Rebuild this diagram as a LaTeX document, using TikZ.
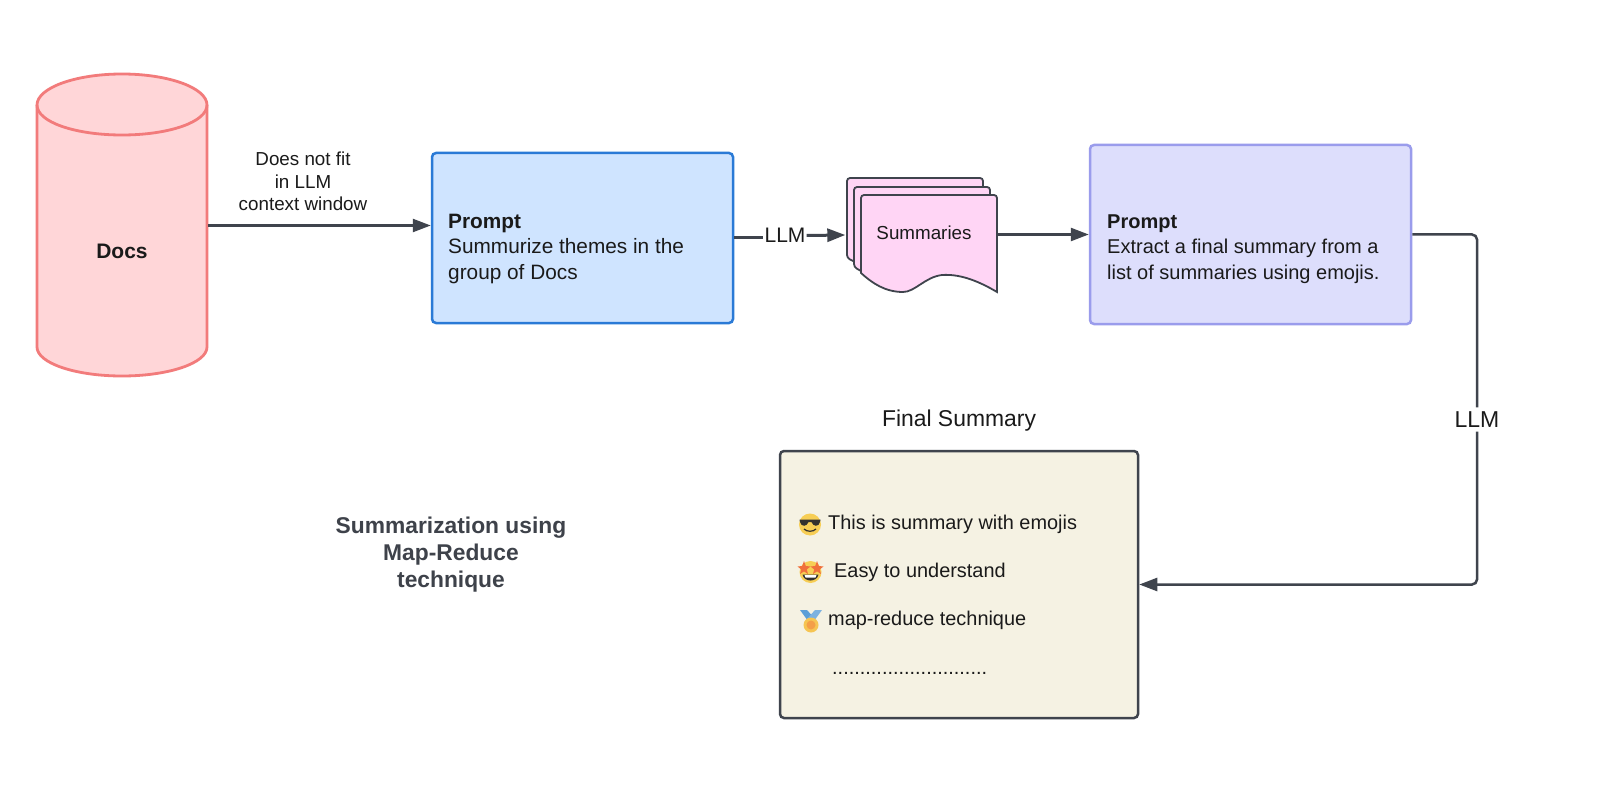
\documentclass[tikz,border=0pt]{standalone}
\usepackage{fontspec}
\setmainfont{Liberation Sans}
\usetikzlibrary{arrows.meta,calc}
\definecolor{ink}{HTML}{3F444D}
\definecolor{txt}{HTML}{1A1A1A}
\definecolor{redl}{HTML}{F27B7B}
\definecolor{redf}{HTML}{FFD6D8}
\definecolor{bluel}{HTML}{2A7AD6}
\definecolor{bluef}{HTML}{CFE4FF}
\definecolor{purl}{HTML}{9A9CEC}
\definecolor{purf}{HTML}{DDDEFC}
\definecolor{pinkf}{HTML}{FFD5F5}
\definecolor{creamf}{HTML}{F5F2E3}
\definecolor{emy}{HTML}{F7CE55}
\definecolor{emo}{HTML}{F0703C}
\definecolor{emb}{HTML}{5C9FD8}
\definecolor{emd}{HTML}{33312E}
\tikzset{
  flow/.style={draw=ink,line width=2.5pt,-{Triangle[length=18pt,width=13pt]}},
  plainflow/.style={draw=ink,line width=2.5pt},
  cardbox/.style={rounded corners=4pt,line width=2.5pt},
  lab/.style={text=txt,font=\fontsize{21}{26}\selectfont,inner sep=1pt},
  smalllab/.style={text=txt,font=\fontsize{18.8}{22.5}\selectfont,inner sep=1pt,align=center},
  bodytext/.style={text=txt,align=left,anchor=west,inner sep=0pt},
  item/.style={text=txt,font=\fontsize{19.9}{24}\selectfont,anchor=base west,inner sep=0pt},
  sheet/.style={draw=ink,fill=pinkf,line width=1.8pt,rounded corners=3pt},
}
\begin{document}
\begin{tikzpicture}[x=1pt,y=-1pt]
\useasboundingbox (0,0) rectangle (1600,794);
\fill[white] (0,0) rectangle (1600,794);

% Cylinder
\path[fill=redf,draw=redl,line width=2.8pt]
  (37,105) -- (37,347) .. controls (37,363) and (75,376) .. (122,376)
  .. controls (169,376) and (207,363) .. (207,347) -- (207,105)
  .. controls (207,88) and (169,74) .. (122,74)
  .. controls (75,74) and (37,88) .. (37,105) -- cycle;
\draw[redl,line width=2.8pt] (37,105) .. controls (37,122) and (75,135) .. (122,135)
  .. controls (169,135) and (207,122) .. (207,105);
\node[inner sep=0pt,minimum width=170pt,minimum height=302pt] (docs) at (122,225) {};
\node[text=txt,font=\bfseries\fontsize{21}{24}\selectfont] (docslab) at (122,251) {Docs};

% Boxes
\node[cardbox,draw=bluel,fill=bluef,minimum width=301pt,minimum height=170pt,inner sep=0pt] (blue) at (582.5,238) {};
\node[cardbox,draw=purl,fill=purf,minimum width=321pt,minimum height=179pt,inner sep=0pt] (purple) at (1250.5,234.5) {};
\node[cardbox,draw=ink,fill=creamf,minimum width=358pt,minimum height=267pt,inner sep=0pt] (final) at (959,584.5) {};

\node[bodytext,font=\fontsize{20.8}{25.7}\selectfont] (bluetext) at (448,249) {\textbf{Prompt}\\Summurize themes in the\\group of Docs};
\node[bodytext,font=\fontsize{20}{25.7}\selectfont] (purpletext) at (1107,249) {\textbf{Prompt}\\Extract a final summary from a\\list of summaries using emojis.};

% Summaries stack
\draw[sheet] (847,258) -- (847,178) -- (983,178) -- (983,200) -- (875,272) -- cycle;
\draw[sheet] (854,267) -- (854,187) -- (990,187) -- (990,210) -- (880,282) -- cycle;
\path[fill=pinkf,draw=ink,line width=1.8pt,rounded corners=3pt]
  (861,273) -- (861,195) -- (997,195) -- (997,240) [sharp corners] -- (997,292)
  .. controls (975,279) and (958,274) .. (942,275)
  .. controls (925,277) and (915,292) .. (903,292)
  .. controls (885,292) and (872,283) .. (861,273) -- cycle;
\node[inner sep=0pt,minimum width=136pt,minimum height=97pt] (sumfront) at (929,243.5) {};
\node[inner sep=0pt,minimum width=1pt,minimum height=80pt] (sumback) at (846,235) {};
\node[text=txt,font=\fontsize{18.8}{22}\selectfont,inner sep=0pt] (sumlab) at (924,233) {Summaries};

% Labels
\node[smalllab] (fitlab) at (303,181.5) {Does not fit\\in LLM\\context window};
\node[lab] (llma) at (785,235.5) {LLM};
\node[lab,fill=white,font=\fontsize{23}{26}\selectfont,inner xsep=1pt,inner ysep=4pt] (llmb) at (1477,419.5) {LLM};
\node[lab,font=\fontsize{22.9}{26}\selectfont] (finaltitle) at (959,421) {Final Summary};
\node[text={rgb,255:red,62;green,66;blue,74},font=\bfseries\fontsize{22.8}{27.3}\selectfont,align=center,inner sep=0pt] (title) at (451,554.5) {Summarization using\\Map-Reduce\\technique};

% Connectors
\draw[flow] (docs.east |- blue.west) ++(1,-12.5) coordinate (fitstart) -- (blue.west |- fitstart);
\draw[plainflow,line width=3pt] (blue.east) -- (llma.west |- blue.east);
\draw[flow,line width=3pt] (llma.east) -- (sumback.west);
\draw[flow] (sumfront.east |- purple.west) -- (purple.west);
\draw[plainflow,rounded corners=5pt] (purple.east) -- (llmb.center |- purple.east) -- (llmb.north);
\draw[flow,rounded corners=5pt] (llmb.south) -- (llmb.center |- final.east) -- (final.east);

% Final summary items
\node[item] (i1) at (828,529) {This is summary with emojis};
\node[item] (i2) at (834,577) {Easy to understand};
\node[item] (i3) at (828,625) {map-reduce technique};
\node[item] (i4) at (832,674) {............................};

% Emoji 1: sunglasses
\fill[emy] (810,524.5) circle (11pt);
\fill[emd] (799.5,519.5) -- (820.5,519.5) -- (820,522) .. controls (819,527) and (813,527) .. (811.5,522)
  -- (808.5,522) .. controls (807,527) and (801,527) .. (800,522) -- cycle;
\draw[emd,line width=1.2pt] (804,529) .. controls (807,532) and (813,532) .. (816,529);
% Emoji 2: star eyes
\fill[emy] (810.5,572) circle (11pt);
\fill[emo] (804,561) -- (805.8,566) -- (810.5,566.5) -- (806.8,569.4) -- (808,574) -- (804,571.4) -- (800,574) -- (801.2,569.4) -- (797.5,566.5) -- (802.2,566) -- cycle;
\fill[emo] (817,561) -- (818.8,566) -- (823.5,566.5) -- (819.8,569.4) -- (821,574) -- (817,571.4) -- (813,574) -- (814.2,569.4) -- (810.5,566.5) -- (815.2,566) -- cycle;
\fill[emd] (802.5,574.5) .. controls (804,582.5) and (817,582.5) .. (818.5,574.5) -- cycle;
\fill[white] (804.5,575) -- (816.5,575) -- (815.5,577.5) -- (805.5,577.5) -- cycle;
% Emoji 3: medal
\fill[emb] (800,610) -- (807,610) -- (815,619) -- (808,621) -- cycle;
\fill[emb!80!white] (822,610) -- (815,610) -- (807,619) -- (814,621) -- cycle;
\fill[emy!90!emo] (811,625) circle (7.5pt);
\fill[emo!50!emy] (811,625) circle (4.5pt);
\end{tikzpicture}
\end{document}
